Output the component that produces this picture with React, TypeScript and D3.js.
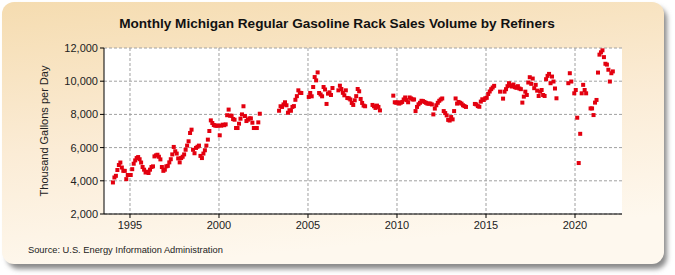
import * as d3 from 'd3';

// monthly values, thousand gallons per day (null = no data)
const firstYear = 1994;
const vol1994 = [3900, 4200, 4300, 4650, 4950, 5100, 4800, 4600, 4600, 4100, 4350, 4350];
const vol1995 = [4350, 4700, 5030, 5230, 5370, 5430, 5300, 5100, 4830, 4670, 4500, 4550];
const vol1996 = [4470, 4670, 4830, 4870, 5470, 5530, 5570, 5450, 5290, 4830, 4600, 4670];
const vol1997 = [4870, 4900, 5110, 5300, 5590, 6040, 5780, 5640, 5350, 5110, 5370, 5450];
const vol1998 = [5590, 5870, 6120, 6380, 6880, 7080, 5870, 5660, 5980, 6050, 6120, 5500];
const vol1999 = [5370, 5640, 5840, 6120, 6480, 7000, 7640, 7480, 7360, 7320, 7320, 7320];
const vol2000 = [6740, 7320, 7380, 7350, 7400, 7950, 8290, 7920, 7920, 7720, 7680, 7180];
const vol2001 = [7180, 7440, 7740, 8000, 8490, 7900, 7600, 7680, 7760, 7760, 7500, 7180];
const vol2002 = [7180, 7180, 7520, 8040, null, null, null, null, null, null, null, null];
const vol2003 = [null, null, null, null, 8220, 8490, 8450, 8600, 8730, 8550, 8100, 8250];
const vol2004 = [8220, 8450, 8500, 8880, 9100, 9450, 9300, 9290, null, null, null, null];
const vol2005 = [9050, 9290, 9090, 9650, 10250, 10050, 10530, 9290, 9200, 9090, 9650, 9500];
const vol2006 = [8630, 9250, 9330, 9170, 9590, null, null, null, 9450, 9730, 9530, 9300];
const vol2007 = [9150, 9450, 8990, 8970, 8900, 8690, 8570, 8850, 9100, 9530, 9390, 8930];
const vol2008 = [8690, 8530, 8490, null, null, null, null, 8570, 8490, 8390, 8530, 8450];
const vol2009 = [8240, null, null, null, null, null, null, null, null, 9130, 8730, 8700];
const vol2010 = [8730, 8650, 8700, 8750, 8900, 9020, 8860, 8730, 9020, 8960, 8900, 8900];
const vol2011 = [8200, 8450, 8610, 8700, 8820, 8800, 8750, 8700, 8650, 8650, 8650, 8600];
const vol2012 = [8000, 8350, 8550, 8700, 8820, 8900, 8960, 8200, 8080, 7940, 7670, 7630];
const vol2013 = [7840, 7700, 8200, 8960, 8650, 8750, 8700, 8650, 8550, 8500, 8450, null];
const vol2014 = [null, null, null, null, 8630, 8600, 8500, 8460, 8770, 8910, 8870, 8970];
const vol2015 = [9000, 9230, 9380, 9520, 9620, 9720, null, null, null, 9370, null, 8950];
const vol2016 = [9370, 9520, 9700, 9880, 9750, 9680, 9800, 9640, 9600, 9700, 9560, 9520];
const vol2017 = [8710, 9070, 9370, 9170, 9920, 10240, 9840, 10160, 9580, 9780, 9430, 9110];
const vol2018 = [9370, 9470, 9170, 9110, 10120, 10320, 10440, 9880, 10280, 9980, 9560, 8970];
const vol2019 = [null, null, null, null, null, null, null, 9880, 10480, 9980, null, 9270];
const vol2020 = [9470, 7800, 5070, 6830, 9270, 9780, 9470, 9270, null, null, 8360, 8360];
const vol2021 = [7960, 8710, 8870, 10520, 11600, 11740, 11860, 11450, 11050, 11000, 10690, 9980];
const vol2022 = [10480, 10590];

const volumeByYear = [
  vol1994, vol1995, vol1996, vol1997, vol1998, vol1999, vol2000, vol2001, vol2002, vol2003,
  vol2004, vol2005, vol2006, vol2007, vol2008, vol2009, vol2010, vol2011, vol2012, vol2013,
  vol2014, vol2015, vol2016, vol2017, vol2018, vol2019, vol2020, vol2021, vol2022,
];

const yTicks = [2000, 4000, 6000, 8000, 10000, 12000];
const xTicks = [1995, 2000, 2005, 2010, 2015, 2020];

const W = 675;
const H = 275;
const plot = { left: 104, right: 622, top: 48, bottom: 214 };

export default function App() {
  const x = d3.scaleLinear().domain([1993.54, 2022.64]).range([plot.left, plot.right]);
  const y = d3.scaleLinear().domain([2000, 12000]).range([plot.bottom, plot.top]);

  const points = volumeByYear.flatMap((row, i) =>
    row
      .map((v, m) => ({ t: firstYear + i + (m + 0.5) / 12, v }))
      .filter(d => d.v != null),
  );

  const font = '"Liberation Sans", Arial, sans-serif';

  return (
    <div style={{ position: 'absolute', left: 0, top: 0 }}>
      <svg width={W} height={H} style={{ display: 'block' }} fontFamily={font}>
        <defs>
          <linearGradient id="bg" x1="0" y1="0" x2="0.25" y2="1">
            <stop offset="0" stopColor="#f5dcb0" />
            <stop offset="0.55" stopColor="#fbecd6" />
            <stop offset="1" stopColor="#fef8ee" />
          </linearGradient>
          <filter id="shadow" x="-5%" y="-5%" width="110%" height="115%">
            <feGaussianBlur stdDeviation="2.5" />
          </filter>
        </defs>
        <rect x={0} y={0} width={W} height={H} fill="#fff" />
        <rect x={7} y={7} width={660} height={262} rx={12} fill="#8a8a8a" filter="url(#shadow)" />
        <rect x={2} y={2} width={662} height={262} rx={12} fill="url(#bg)" />

        <text x={337} y={28} textAnchor="middle" fontSize={13.6} fontWeight="bold" fill="#111">
          Monthly Michigan Regular Gasoline Rack Sales Volume by Refiners
        </text>

        <rect
          x={plot.left}
          y={plot.top}
          width={plot.right - plot.left}
          height={plot.bottom - plot.top}
          fill="#fff"
        />

        {yTicks.map(t => (
          <g key={`y${t}`}>
            <line
              x1={plot.left}
              x2={plot.right}
              y1={y(t)}
              y2={y(t)}
              stroke="#a0a0a0"
              strokeDasharray="3,2"
            />
            <line x1={plot.left - 4} x2={plot.left} y1={y(t)} y2={y(t)} stroke="#000" />
            <text x={plot.left - 6} y={y(t) + 4} textAnchor="end" fontSize={11} fill="#222">
              {d3.format(',')(t)}
            </text>
          </g>
        ))}
        {xTicks.map(t => (
          <g key={`x${t}`}>
            <line
              x1={x(t)}
              x2={x(t)}
              y1={plot.top}
              y2={plot.bottom}
              stroke="#a0a0a0"
              strokeDasharray="3,2"
            />
            <line x1={x(t)} x2={x(t)} y1={plot.bottom} y2={plot.bottom + 4} stroke="#000" />
            <text x={x(t)} y={plot.bottom + 15} textAnchor="middle" fontSize={11} fill="#222">
              {t}
            </text>
          </g>
        ))}

        <line x1={plot.left} x2={plot.left} y1={plot.top} y2={plot.bottom} stroke="#000" />
        <line x1={plot.left} x2={plot.right} y1={plot.bottom} y2={plot.bottom} stroke="#000" />

        {points.map((d, i) => (
          <rect key={i} x={x(d.t) - 2} y={y(d.v) - 2} width={4} height={4} fill="#e3000f" />
        ))}

        <text
          transform={`translate(48, ${(plot.top + plot.bottom) / 2}) rotate(-90)`}
          textAnchor="middle"
          fontSize={11}
          fill="#222"
        >
          Thousand Gallons per Day
        </text>

        <text x={28} y={253} fontSize={9.3} fill="#222">
          Source: U.S. Energy Information Administration
        </text>
      </svg>
    </div>
  );
}
